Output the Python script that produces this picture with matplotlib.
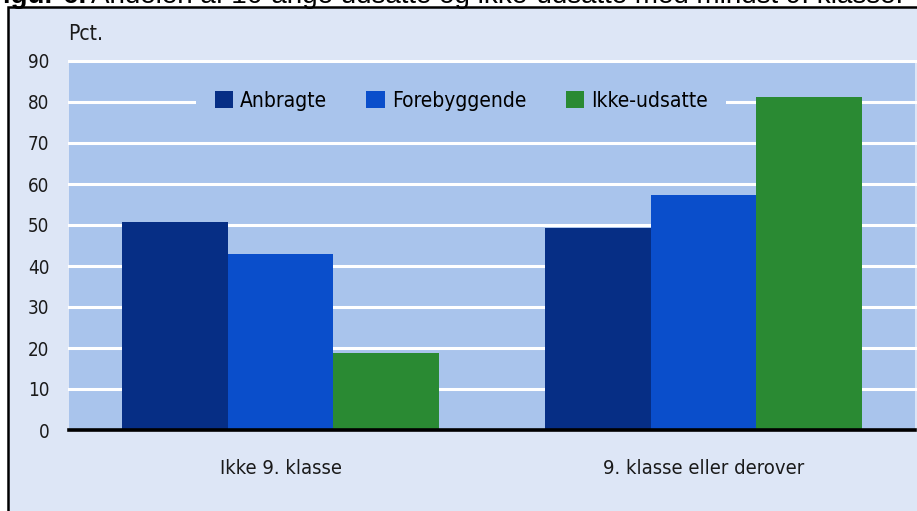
import matplotlib.pyplot as plt
import numpy as np
from matplotlib.patches import Rectangle

# Data
groups = ['Ikke 9. klasse', '9. klasse eller derover']
series = ['Anbragte', 'Forebyggende', 'Ikke-udsatte']
anbragte = [50.7, 49.3]
forebyggende = [42.9, 57.3]
ikke_udsatte = [18.8, 81.2]
yticks = [0, 10, 20, 30, 40, 50, 60, 70, 80, 90]

colors = ['#062e85', '#0a4ecb', '#2a8a33']
plot_bg = '#a9c4ec'
outer_bg = '#dde6f6'

plt.rcParams['font.family'] = ['DejaVu Sans']
plt.rcParams['font.stretch'] = 'condensed'

fig = plt.figure(figsize=(9.17, 5.11), dpi=100)
fig.patch.set_facecolor('white')

# frame (only top and left edges visible, rest cut off)
fig.patches.append(Rectangle((8 / 917, -0.1), 1.2, 1 - 7 / 511 + 0.1,
                             transform=fig.transFigure, facecolor=outer_bg,
                             edgecolor='black', linewidth=1.8, zorder=-5))

# partly visible title, cut at the top like in the original
t1 = fig.text(-14 / 917, 1 - 3 / 511, 'Figur 6.', fontsize=20, fontweight='bold',
              family='Liberation Sans', va='baseline', ha='left')
fig.canvas.draw()
bb = t1.get_window_extent()
fig.text((bb.x1 + 5) / 917, 1 - 3 / 511,
         'Andelen af 16-årige udsatte og ikke-udsatte med mindst 9. klasse.',
         fontsize=20, family='Liberation Sans', va='baseline', ha='left')

ax = fig.add_axes([69 / 917, 1 - 430 / 511, 846 / 917, 369 / 511])
ax.set_facecolor(plot_bg)

x = np.arange(len(groups))
w = 0.25
data = [anbragte, forebyggende, ikke_udsatte]
handles = []
for i, (vals, name) in enumerate(zip(data, series)):
    b = ax.bar(x + (i - 1) * w, vals, width=w, color=colors[i], label=name, zorder=3)
    handles.append(b)

ax.set_xlim(-0.5, 1.5)
ax.set_ylim(0, 90)
ax.set_yticks(yticks)
for t in yticks[1:]:
    ax.axhline(t, color='white', linewidth=2.2, zorder=1, clip_on=False)
ax.axhline(0, color='black', linewidth=2.6, zorder=4, clip_on=False)

for s in ax.spines.values():
    s.set_visible(False)
ax.tick_params(axis='both', length=0, labelsize=13.5, colors='#1a1a1a')
ax.tick_params(axis='y', pad=14)
ax.tick_params(axis='x', pad=21, labelsize=14.5)
ax.set_xticks(x)
ax.set_xticklabels(groups)

fig.text(68 / 917, 1 - 40 / 511, 'Pct.', fontsize=15, color='#1a1a1a',
         ha='left', va='baseline')

leg = ax.legend(handles=handles, loc='center', bbox_to_anchor=(0.4634, 0.8916),
                ncol=3, fontsize=15, frameon=True, facecolor=plot_bg,
                edgecolor='none', framealpha=1, fancybox=False,
                handlelength=0.87, handleheight=0.87, handletextpad=0.34,
                columnspacing=1.9, borderpad=0.9, borderaxespad=0)
leg.set_zorder(5)

fig.savefig('out.png', dpi=100, facecolor=fig.get_facecolor())
